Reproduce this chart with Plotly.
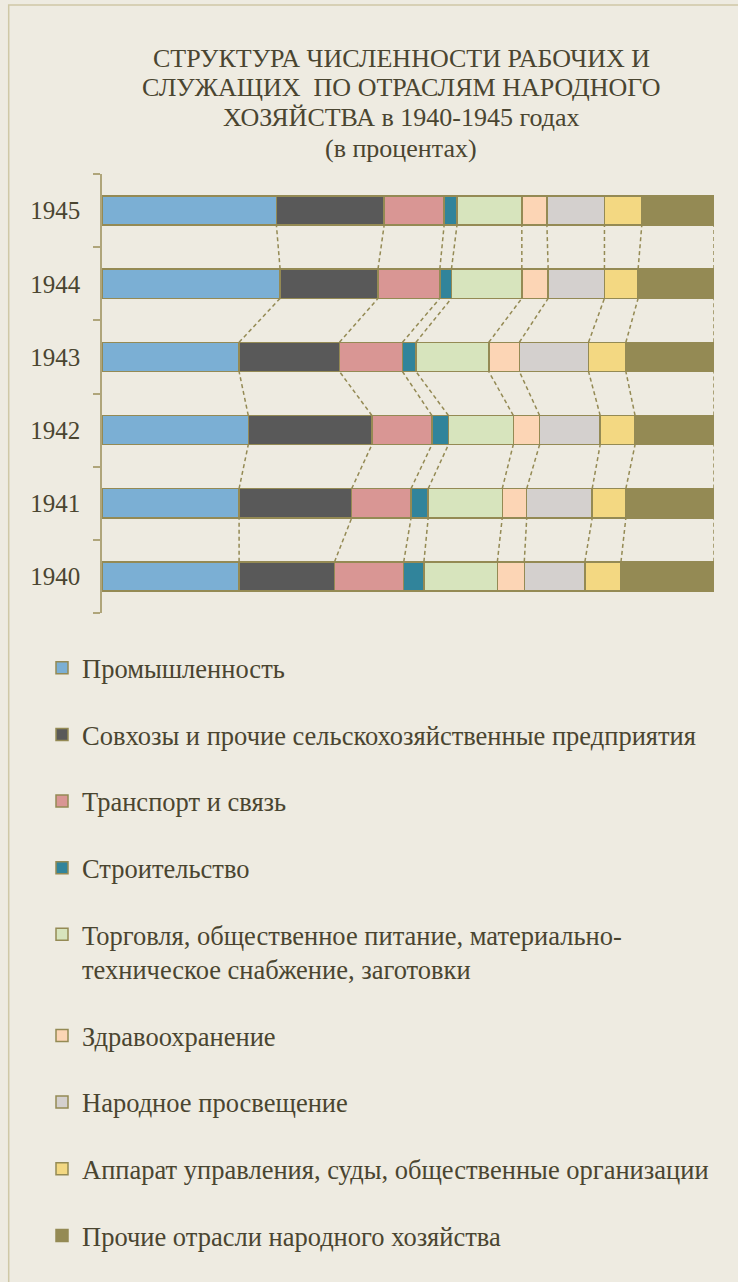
import plotly.graph_objects as go

years = [1940, 1941, 1942, 1943, 1944, 1945]
series_names = [
    "Промышленность",
    "Совхозы и прочие сельскохозяйственные предприятия",
    "Транспорт и связь",
    "Строительство",
    "Торговля, общественное питание, материально-<br>техническое снабжение, заготовки",
    "Здравоохранение",
    "Народное просвещение",
    "Аппарат управления, суды, общественные организации",
    "Прочие отрасли народного хозяйства",
]
industry = [22.4, 22.4, 23.9, 22.4, 29.1, 28.5]
sovkhozy = [15.6, 18.4, 20.2, 16.4, 16.0, 17.6]
transport = [11.3, 9.7, 9.8, 10.3, 10.1, 9.8]
construction = [3.3, 2.8, 2.7, 2.2, 1.9, 2.1]
trade = [12.0, 12.1, 10.6, 11.9, 11.5, 10.6]
health = [4.4, 4.0, 4.3, 5.0, 4.3, 4.1]
education = [9.9, 10.7, 9.9, 11.3, 9.2, 9.4]
administration = [5.9, 5.5, 5.7, 6.1, 5.5, 6.1]
other = [15.2, 14.4, 12.9, 14.4, 12.4, 11.8]

title_lines = [
    "СТРУКТУРА ЧИСЛЕННОСТИ РАБОЧИХ И",
    "СЛУЖАЩИХ  ПО ОТРАСЛЯМ НАРОДНОГО",
    "ХОЗЯЙСТВА в 1940-1945 годах",
    "(в процентах)",
]

series_values = [industry, sovkhozy, transport, construction, trade,
                 health, education, administration, other]
colors = ["#7BAFD4", "#595959", "#D99694", "#31849B", "#D7E4BD",
          "#FCD5B5", "#D4D0CE", "#F3D882", "#948A54"]

OLIVE = "#948A54"
TEXT = "#4A4530"
BG = "#EEEBE1"
FONT = "Liberation Serif"
BAR_W = 0.4

W, H = 738, 1282
ML, MR, MT, MB = 102, 24, 174, 669
PW = W - ML - MR
PH = H - MT - MB


def px_x(p):
    return (p - ML) / PW


def px_y(p):
    return (H - MB - p) / PH


fig = go.Figure()

# series lines (dashed connectors between adjacent bars)
cum = [[0.0] * len(years) for _ in range(len(series_values))]
for j in range(len(years)):
    s = 0.0
    for k, vals in enumerate(series_values):
        s += vals[j]
        cum[k][j] = s

for k in range(len(series_values)):
    xs, ys = [], []
    for j in range(len(years) - 1):
        xs += [cum[k][j], cum[k][j + 1], None]
        ys += [years[j] + BAR_W / 2, years[j + 1] - BAR_W / 2, None]
    fig.add_trace(go.Scatter(
        x=xs, y=ys, mode="lines", showlegend=False, hoverinfo="skip",
        line=dict(color=OLIVE, width=1.5, dash="4px,3px"),
    ))

for name, vals, col in zip(series_names, series_values, colors):
    fig.add_trace(go.Bar(
        y=years, x=vals, orientation="h", name=name, width=BAR_W,
        legendgroup=name,
        marker=dict(color=col, line=dict(color=OLIVE, width=1.5)),
    ))

title_y = [58, 88, 118, 148]
annotations = [
    dict(text=t, x=px_x(401), y=px_y(yy), xref="paper", yref="paper",
         xanchor="center", yanchor="middle", showarrow=False,
         font=dict(family=FONT, size=26, color=TEXT))
    for t, yy in zip(title_lines, title_y)
]

fig.update_layout(
    width=W, height=H,
    barmode="stack",
    paper_bgcolor=BG, plot_bgcolor=BG,
    margin=dict(l=ML, r=MR, t=MT, b=MB, autoexpand=False),
    font=dict(family=FONT, color=TEXT, size=24),
    annotations=annotations,
    xaxis=dict(range=[0, 100], visible=False, showgrid=False, zeroline=False),
    yaxis=dict(
        range=[1939.5, 1945.5], tickvals=years, ticktext=[str(y) for y in years],
        ticks="", showgrid=False, zeroline=False,
        showline=True, linecolor="#AFA57A", linewidth=1.5,
        ticklabelstandoff=15,
        tickfont=dict(family=FONT, size=25, color=TEXT),
        minor=dict(tick0=1939.5, dtick=1, ticks="outside", ticklen=7,
                   tickcolor="#AFA57A", tickwidth=1.5, showgrid=False),
    ),
    legend=dict(
        x=px_x(42), xanchor="left", xref="paper",
        y=px_y(644), yanchor="top", yref="paper",
        traceorder="grouped", tracegroupgap=29.2, valign="top",
        maxheight=1200,
        bgcolor="rgba(0,0,0,0)", borderwidth=0,
        font=dict(family=FONT, size=26.5, color=TEXT),
    ),
    shapes=[dict(type="rect", xref="paper", yref="paper",
                 x0=px_x(8.7), x1=px_x(780), y0=px_y(5), y1=px_y(1320),
                 line=dict(color="#CFC8A6", width=1.5), layer="below")],
)

fig.write_html(
    "out.html",
    config={"displayModeBar": False},
    post_script="document.body.style.margin='0';"
                "document.body.style.background='" + BG + "';",
)
